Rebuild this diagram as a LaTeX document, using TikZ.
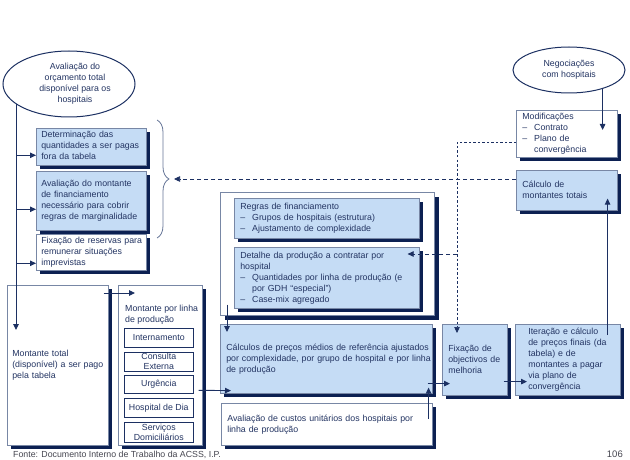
\documentclass[tikz,border=0pt]{standalone}
\usepackage{fontspec}
\setmainfont{Liberation Sans}
\usetikzlibrary{shapes.geometric,arrows.meta,calc,shadows,decorations.pathreplacing}
\definecolor{txtc}{RGB}{35,52,98}
\definecolor{fillb}{RGB}{197,220,245}
\definecolor{shc}{RGB}{12,32,82}
\definecolor{bdc}{RGB}{120,135,165}
\definecolor{lnc}{RGB}{28,48,98}
\definecolor{footc}{RGB}{70,70,80}
\newcommand{\mylines}[1]{\begin{tabular}{@{}l@{}}#1\end{tabular}}
\newcommand{\mylinestop}[1]{\begin{tabular}[t]{@{}l@{}}#1\end{tabular}}
\newcommand{\mylinesc}[1]{\begin{tabular}{@{}c@{}}#1\end{tabular}}
\newcommand{\myitm}{–\hspace{7pt}}
\newcommand{\myind}{\phantom{–}\hspace{7pt}}
\begin{document}
\begin{tikzpicture}[x=1pt,y=-1pt,
  boxbase/.style={rectangle, draw=bdc, line width=0.6pt, text=txtc,
    font=\fontsize{8.8}{11}\selectfont, inner ysep=0pt, inner xsep=5pt,
    align=left, anchor=north west},
  bluebox/.style={boxbase, fill=fillb,
    drop shadow={shadow xshift=3.5pt, shadow yshift=-3.5pt, opacity=1, fill=shc}},
  whitebox/.style={boxbase, fill=white,
    drop shadow={shadow xshift=3.5pt, shadow yshift=-3.5pt, opacity=1, fill=shc}},
  subbox/.style={rectangle, draw=lnc, line width=0.6pt, fill=white, text=txtc,
    font=\fontsize{8.8}{10}\selectfont, align=center, inner sep=0pt,
    minimum width=69pt, anchor=north west},
  ellnode/.style={ellipse, draw=lnc, line width=1pt, fill=white, text=txtc,
    font=\fontsize{8.8}{11}\selectfont, inner sep=0pt},
  arrowline/.style={draw=lnc, line width=0.9pt, -{Triangle[length=6pt,width=5.5pt]}},
  dashline/.style={draw=lnc, line width=0.7pt, dash pattern=on 4pt off 3pt},
  dashfine/.style={draw=lnc, line width=0.6pt, dash pattern=on 2.5pt off 2pt}
]
\fill[white] (0,0) rectangle (630,460);
\useasboundingbox (0,0) rectangle (630,460);

% ellipses
\node[ellnode, minimum width=132pt, minimum height=66pt] (ell1) at (69,84)
  {\hspace*{12pt}\mylinesc{Avaliação do\\orçamento total\\disponível para os\\hospitais}};
\node[ellnode, minimum width=112pt, minimum height=46pt] (ell2) at (569,70)
  {\mylinesc{Negociações\\com hospitais}};

% left column
\node[bluebox, minimum width=110pt, minimum height=37pt, text width=100pt] (b1) at (36,128)
  {\mylines{Determinação das\\quantidades a ser pagas\\fora da tabela}};
\node[bluebox, minimum width=110pt, minimum height=59pt, text width=100pt] (b2) at (36,171)
  {\mylines{Avaliação do montante\\de financiamento\\necessário para cobrir\\regras de marginalidade}};
\node[whitebox, minimum width=110pt, minimum height=36pt, text width=100pt] (b3) at (36,234)
  {\mylines{Fixação de reservas para\\remunerar situações\\imprevistas}};

\node[whitebox, minimum width=101pt, minimum height=160pt, text width=91pt] (montTot) at (7,285)
  {\mylines{Montante total\\(disponível) a ser pago\\pela tabela}};
\node[whitebox, minimum width=84pt, minimum height=160pt, text width=74pt] (montLin) at (118,285) {};
\node[anchor=base west, inner sep=0pt, text=txtc, font=\fontsize{8.8}{11}\selectfont]
  (montLinTxt) at (125,311) {\mylinestop{Montante por linha\\de produção}};
\node[subbox, minimum height=19pt] (intern) at (124,328) {Internamento};
\node[subbox, minimum height=19pt] (consulta) at (124,352) {Consulta\\Externa};
\node[subbox, minimum height=18pt] (urg) at (124,375) {Urgência};
\node[subbox, minimum height=19pt] (hdia) at (124,398) {Hospital de Dia};
\node[subbox, minimum height=20pt] (serv) at (124,422) {Serviços\\Domiciliários};

% middle
\node[boxbase, fill=white, minimum width=214pt, minimum height=123pt,
  drop shadow={shadow xshift=5pt, shadow yshift=-5pt, opacity=1, fill=shc}] (regCont) at (220,192) {};
\node[bluebox, inner xsep=6pt, minimum width=185pt, minimum height=40pt, text width=173pt] (regras) at (234,198)
  {\mylines{Regras de financiamento\\\myitm Grupos de hospitais (estrutura)\\\myitm Ajustamento de complexidade}};
\node[bluebox, inner xsep=6pt, minimum width=185pt, minimum height=61pt, text width=173pt] (detalhe) at (234,247)
  {\mylines{Detalhe da produção a contratar por\\hospital\\\myitm Quantidades por linha de produção (e\\\myind por GDH “especial”)\\\myitm Case-mix agregado}};
\node[bluebox, inner xsep=6pt, minimum width=212pt, minimum height=69pt, text width=200pt] (calculos) at (220,324)
  {\mylines{Cálculos de preços médios de referência ajustados\\por complexidade, por grupo de hospital e por linha\\de produção}};
\node[whitebox, inner xsep=6pt, minimum width=211pt, minimum height=42pt, text width=199pt] (avCustos) at (221,403)
  {\mylines{Avaliação de custos unitários dos hospitais por\\linha de produção}};

% right
\node[bluebox, inner xsep=6pt, minimum width=65pt, minimum height=71pt, text width=53pt] (fixacao) at (442,324)
  {\mylines{Fixação de\\objectivos de\\melhoria}};
\node[bluebox, inner xsep=13pt, minimum width=105pt, minimum height=71pt, text width=79pt] (iteracao) at (515,324)
  {\mylines{Iteração e cálculo\\de preços finais (da\\tabela) e de\\montantes a pagar\\via plano de\\convergência}};
\node[bluebox, inner xsep=6pt, minimum width=101pt, minimum height=40pt, text width=89pt] (calcMont) at (516,170)
  {\mylines{Cálculo de\\montantes totais}};
\node[whitebox, inner xsep=6pt, minimum width=101pt, minimum height=47pt, text width=89pt] (modif) at (516,110)
  {\mylines{Modificações\\\myitm Contrato\\\myitm Plano de\\\myind convergência}};

% brace
\draw[draw=bdc!80!lnc, line width=0.8pt, decorate, decoration={brace, amplitude=12pt}] (157,120) -- (157,238);
\coordinate (braceTip) at (174,179);

% left vertical line and branches
\coordinate (vtip) at (16,330);
\draw[arrowline] (vtip |- ell1.200) -- (vtip);
\coordinate (b1in) at ($(b1.west)+(0,8.5)$);
\coordinate (b2in) at ($(b2.west)+(0,8.5)$);
\coordinate (b3in) at ($(b3.west)+(0,11)$);
\draw[arrowline] (vtip |- b1in) -- (b1in);
\draw[arrowline] (vtip |- b2in) -- (b2in);
\draw[arrowline] (vtip |- b3in) -- (b3in);

% bottom-left flow
\draw[arrowline] ($(montTot.north east)+(-5,8)$) -- ($(montLin.north west)+(17,8)$);
\draw[arrowline] ($(montLin.east)+(-4,25)$) -- ($(calculos.south west)+(11,-3)$);
\draw[arrowline] ($(regCont.south west)+(7,-11)$) -- ($(calculos.north west)+(7,8)$);
\draw[arrowline] ($(avCustos.north east)+(-4,16)$) -- ($(calculos.south east)+(-4,-6)$);
\draw[arrowline] ($(calculos.south east)+(-5,-10)$) -- ($(fixacao.south west)+(8,-12)$);
\draw[arrowline] ($(fixacao.south east)+(-4,-14)$) -- ($(iteracao.south west)+(12,-14)$);
\draw[arrowline] ($(iteracao.north east)+(-13,11)$) -- ($(calcMont.south east)+(-10,-12)$);

% negotiations
\coordinate (mtip) at ($(modif.north east)+(-15,20)$);
\draw[arrowline] (mtip |- ell2.330) -- (mtip);

% dashed connectors
\coordinate (modOut) at ($(modif.north west)+(0,32)$);
\coordinate (fixTip) at ($(fixacao.north west)+(15,9)$);
\coordinate (detTip) at ($(detalhe.north east)+(-12,7)$);
\draw[dashfine, -{Triangle[length=6pt,width=5.5pt]}] (modOut) -| (fixTip);
\draw[dashline, -{Triangle[length=6pt,width=5.5pt]}] (fixTip |- detTip) -- (detTip);
\draw[dashline, -{Triangle[length=6pt,width=5.5pt]}] ($(calcMont.north west)+(0,9)$) -- (braceTip);

% footer
\node[anchor=base west, inner sep=0pt, text=footc, font=\fontsize{8.8}{11}\selectfont] (fonte) at (13,457)
  {Fonte: Documento Interno de Trabalho da ACSS, I.P.};
\node[anchor=base east, inner sep=0pt, text=footc, font=\fontsize{9.5}{11}\selectfont] (pagina) at (623,457) {106};
\end{tikzpicture}
\end{document}
